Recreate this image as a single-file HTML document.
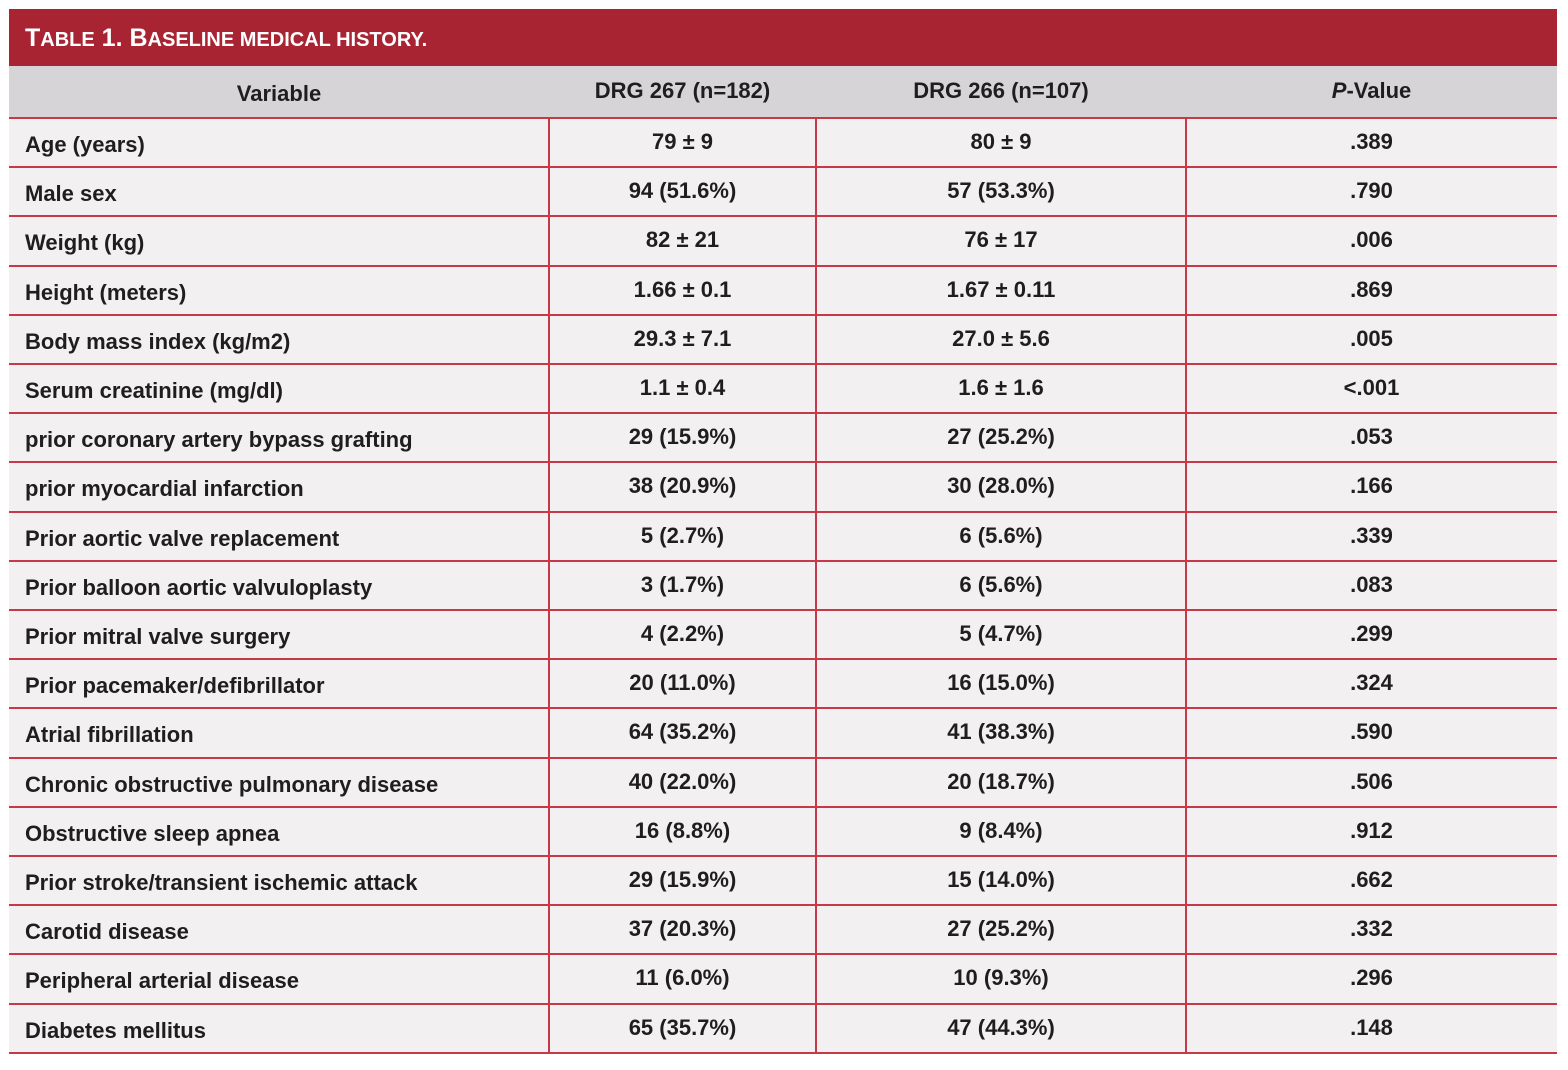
<!DOCTYPE html>
<html><head><meta charset="utf-8"><style>
body{margin:0;width:1568px;height:1070px;background:#fff;font-family:"Liberation Sans",sans-serif;font-weight:bold;color:#1e1e1e;position:relative;overflow:hidden}
.t{position:absolute;left:9px;top:9px;width:1548px;height:57px;background:#a82433;color:#fff}
.t span.w{position:absolute;left:16px;top:15px;font-size:25px;letter-spacing:0px;white-space:nowrap}
.t small{font-size:20px}
.h{position:absolute;left:9px;top:66px;width:1548px;height:52px;background:#d6d4d7}
.b{position:absolute;left:9px;top:118px;width:1548px;height:936px;background:#f3f0f1}
.hl{position:absolute;left:9px;width:1548px;height:2px;background:#c63a48}
.vl{position:absolute;top:118px;height:936px;width:2px;background:#c63a48}
.c{position:absolute;font-size:22px;letter-spacing:0px;white-space:nowrap;text-align:center}
.l{position:absolute;left:25px;font-size:22px;letter-spacing:0px;white-space:nowrap}
</style></head><body>
<div class="t"><span class="w">T<small>ABLE</small> 1. B<small>ASELINE MEDICAL HISTORY.</small></span></div>
<div class="h"></div>
<div class="b"></div>
<div class="c" style="left:9px;width:540px;top:81px">Variable</div>
<div class="c" style="left:549px;width:267px;top:78px">DRG 267 (n=182)</div>
<div class="c" style="left:816px;width:370px;top:78px">DRG 266 (n=107)</div>
<div class="c" style="left:1186px;width:371px;top:78px"><i>P</i>-Value</div>
<div class="vl" style="left:548px"></div>
<div class="vl" style="left:815px"></div>
<div class="vl" style="left:1185px"></div>
<div id="rows"></div>
<script>
var d=[["Age (years)","79 ± 9","80 ± 9",".389"],["Male sex","94 (51.6%)","57 (53.3%)",".790"],["Weight (kg)","82 ± 21","76 ± 17",".006"],["Height (meters)","1.66 ± 0.1","1.67 ± 0.11",".869"],["Body mass index (kg/m2)","29.3 ± 7.1","27.0 ± 5.6",".005"],["Serum creatinine (mg/dl)","1.1 ± 0.4","1.6 ± 1.6","<.001"],["prior coronary artery bypass grafting","29 (15.9%)","27 (25.2%)",".053"],["prior myocardial infarction","38 (20.9%)","30 (28.0%)",".166"],["Prior aortic valve replacement","5 (2.7%)","6 (5.6%)",".339"],["Prior balloon aortic valvuloplasty","3 (1.7%)","6 (5.6%)",".083"],["Prior mitral valve surgery","4 (2.2%)","5 (4.7%)",".299"],["Prior pacemaker/defibrillator","20 (11.0%)","16 (15.0%)",".324"],["Atrial fibrillation","64 (35.2%)","41 (38.3%)",".590"],["Chronic obstructive pulmonary disease","40 (22.0%)","20 (18.7%)",".506"],["Obstructive sleep apnea","16 (8.8%)","9 (8.4%)",".912"],["Prior stroke/transient ischemic attack","29 (15.9%)","15 (14.0%)",".662"],["Carotid disease","37 (20.3%)","27 (25.2%)",".332"],["Peripheral arterial disease","11 (6.0%)","10 (9.3%)",".296"],["Diabetes mellitus","65 (35.7%)","47 (44.3%)",".148"]];
var h="",H=49.2;
h+='<div class="hl" style="top:117px"></div>';
for(var i=0;i<d.length;i++){var y=118+i*H;
h+='<div class="l" style="top:'+(y+14)+'px">'+d[i][0].replace("<","&lt;")+'</div>';
h+='<div class="c" style="left:549px;width:267px;top:'+(y+11)+'px">'+d[i][1]+'</div>';
h+='<div class="c" style="left:816px;width:370px;top:'+(y+11)+'px">'+d[i][2]+'</div>';
h+='<div class="c" style="left:1186px;width:371px;top:'+(y+11)+'px">'+d[i][3].replace("<","&lt;")+'</div>';
h+='<div class="hl" style="top:'+(y+H-1)+'px"></div>';}
document.getElementById("rows").innerHTML=h;
</script>
</body></html>
